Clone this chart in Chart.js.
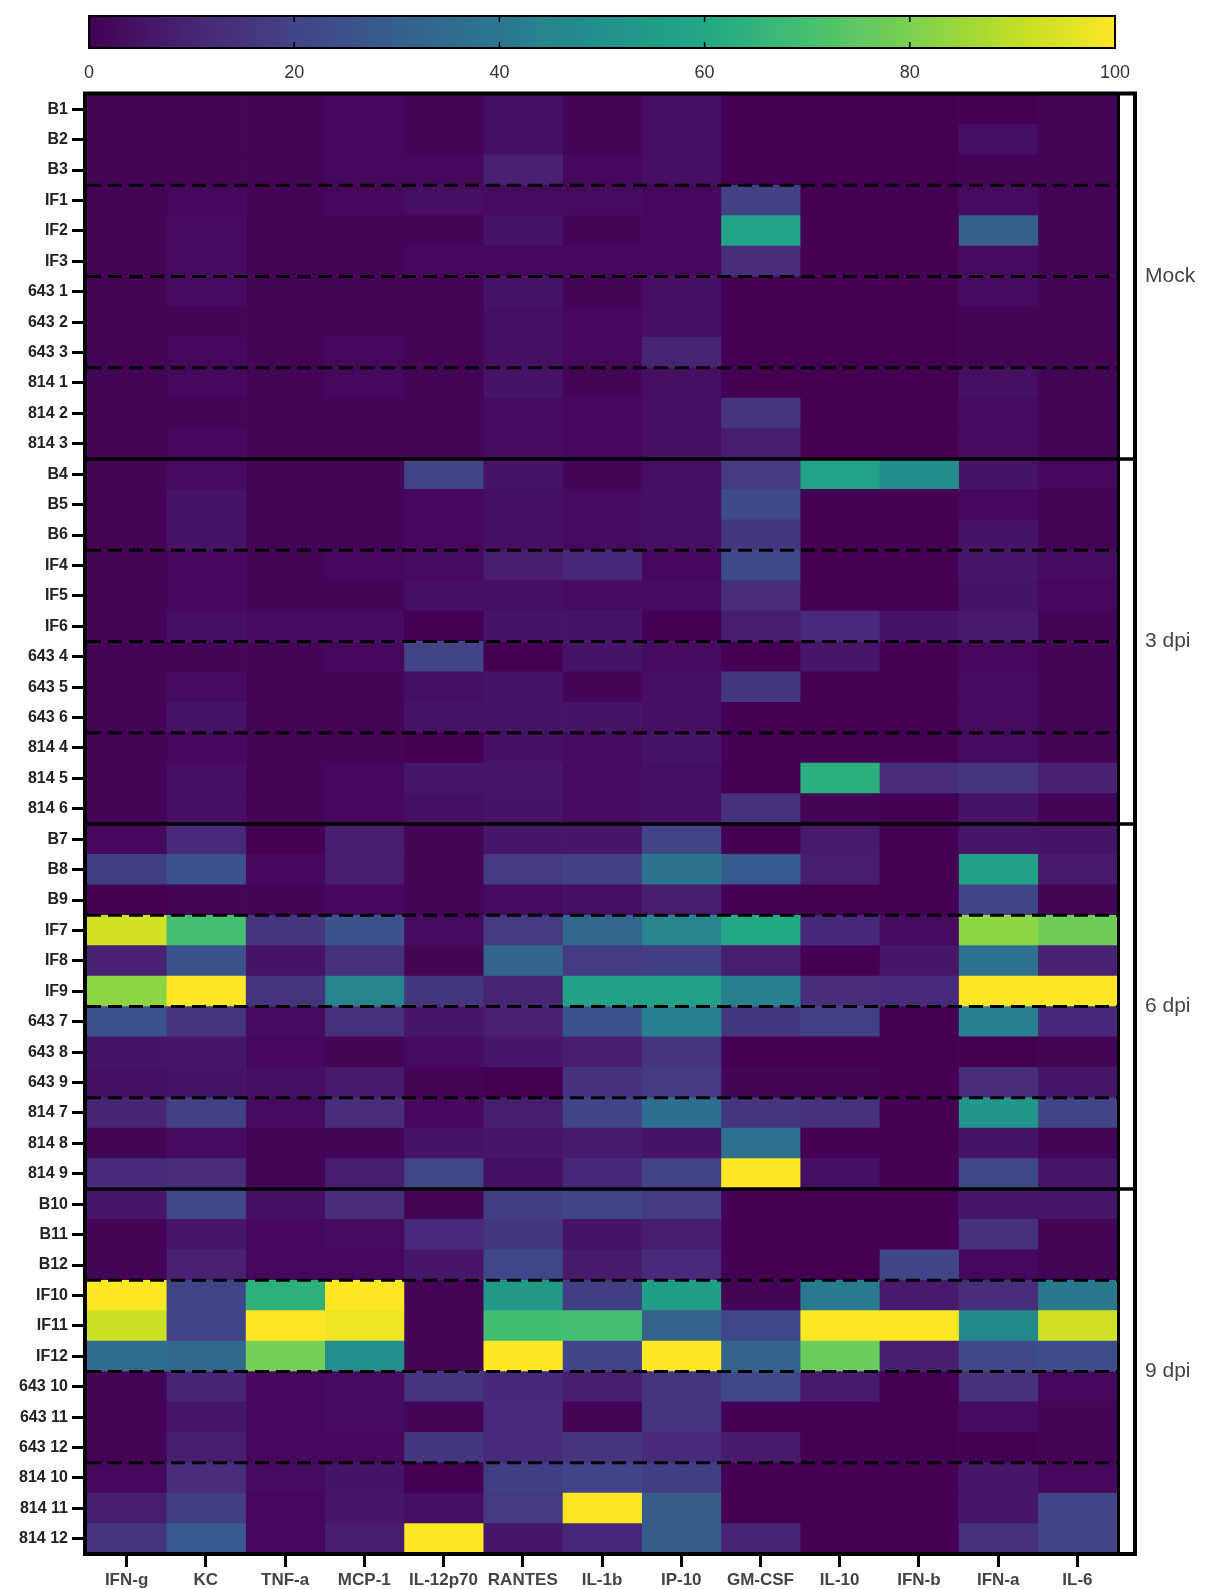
<!DOCTYPE html>
<html>
<head>
<meta charset="utf-8">
<script src="https://cdn.jsdelivr.net/npm/chart.js"></script>
<style>
  body { margin: 0; background: #fff; }
  #wrap { position: relative; width: 1205px; height: 1589px; }
  canvas { position: absolute; left: 0; top: 0; }
</style>
</head>
<body>
<div id="wrap">
  <canvas id="heatmap" width="1205" height="1589"></canvas>
  <canvas id="colorbar" width="1205" height="90"></canvas>
</div>
<script>
// columns (cytokines)
const columns = ['IFN-g', 'KC', 'TNF-a', 'MCP-1', 'IL-12p70', 'RANTES', 'IL-1b', 'IP-10', 'GM-CSF', 'IL-10', 'IFN-b', 'IFN-a', 'IL-6'];

const groups = ['Mock', '3 dpi', '6 dpi', '9 dpi'];

const rowLabels = [
  'B1', 'B2', 'B3', 'IF1', 'IF2', 'IF3', '643 1', '643 2', '643 3', '814 1', '814 2', '814 3',
  'B4', 'B5', 'B6', 'IF4', 'IF5', 'IF6', '643 4', '643 5', '643 6', '814 4', '814 5', '814 6',
  'B7', 'B8', 'B9', 'IF7', 'IF8', 'IF9', '643 7', '643 8', '643 9', '814 7', '814 8', '814 9',
  'B10', 'B11', 'B12', 'IF10', 'IF11', 'IF12', '643 10', '643 11', '643 12', '814 10', '814 11', '814 12'
];

// values (0-100) per row, one group at a time
const mockValues = [
  [1, 1, 1, 2, 1, 4, 1, 4, 0, 0, 0, 0, 1],
  [1, 1, 1, 2, 1, 4, 1, 4, 0, 0, 0, 4, 1],
  [1, 1, 1, 2, 2, 9, 2, 4, 0, 0, 0, 1, 1],
  [1, 2, 1, 2, 4, 3, 3, 2, 19, 0, 0, 3, 1],
  [1, 3, 1, 1, 1, 5, 1, 2, 58, 0, 0, 30, 1],
  [1, 3, 1, 1, 2, 2, 2, 2, 13, 0, 0, 3, 1],
  [1, 3, 1, 1, 1, 5, 1, 4, 0, 0, 0, 3, 1],
  [1, 1, 1, 1, 1, 4, 2, 4, 0, 0, 0, 1, 1],
  [1, 2, 1, 2, 1, 4, 2, 10, 0, 0, 0, 1, 1],
  [1, 2, 1, 2, 1, 5, 1, 4, 0, 0, 0, 4, 1],
  [1, 1, 1, 1, 1, 3, 2, 4, 15, 0, 0, 3, 1],
  [1, 2, 1, 1, 1, 3, 2, 4, 8, 0, 0, 3, 1]
];
const dpi3Values = [
  [1, 3, 1, 1, 20, 5, 1, 4, 17, 58, 48, 5, 2],
  [1, 5, 1, 1, 2, 4, 3, 4, 23, 0, 0, 2, 1],
  [1, 5, 1, 1, 2, 4, 3, 4, 16, 0, 0, 5, 1],
  [1, 2, 1, 2, 3, 8, 11, 2, 23, 0, 0, 6, 3],
  [1, 2, 1, 1, 4, 4, 3, 3, 13, 0, 0, 5, 2],
  [1, 4, 3, 3, 0, 5, 5, 0, 8, 12, 5, 7, 1],
  [1, 1, 1, 2, 20, 0, 5, 3, 0, 6, 0, 2, 1],
  [1, 3, 1, 1, 4, 5, 1, 4, 16, 0, 0, 3, 1],
  [1, 5, 1, 1, 5, 5, 5, 4, 0, 0, 0, 3, 1],
  [1, 2, 1, 1, 0, 4, 3, 5, 0, 0, 0, 3, 1],
  [1, 4, 1, 2, 6, 6, 3, 4, 0, 63, 13, 15, 9],
  [1, 4, 1, 2, 4, 5, 3, 4, 14, 1, 0, 5, 1]
];
const dpi6Values = [
  [2, 12, 0, 8, 1, 6, 6, 20, 0, 7, 0, 6, 5],
  [18, 25, 2, 8, 1, 17, 19, 38, 28, 8, 0, 57, 7],
  [0, 1, 1, 2, 1, 3, 4, 8, 0, 0, 0, 20, 1],
  [93, 70, 15, 25, 3, 17, 33, 45, 60, 11, 3, 83, 78],
  [9, 26, 5, 14, 1, 32, 17, 18, 8, 0, 6, 37, 9],
  [83, 100, 15, 44, 16, 10, 57, 57, 43, 13, 12, 100, 100],
  [25, 15, 3, 14, 6, 9, 25, 43, 16, 19, 0, 43, 11],
  [5, 6, 2, 1, 3, 6, 8, 15, 0, 0, 0, 0, 1],
  [4, 5, 4, 7, 1, 0, 14, 17, 1, 1, 0, 13, 6],
  [10, 19, 3, 13, 2, 8, 20, 36, 15, 14, 0, 52, 20],
  [1, 3, 1, 1, 5, 6, 7, 5, 37, 0, 0, 5, 1],
  [12, 13, 1, 8, 21, 4, 11, 20, 100, 4, 0, 22, 6]
];
const dpi9Values = [
  [6, 22, 4, 13, 1, 18, 20, 17, 0, 0, 0, 6, 6],
  [1, 6, 2, 3, 12, 16, 5, 8, 0, 0, 0, 14, 1],
  [1, 9, 2, 2, 6, 21, 7, 12, 0, 0, 20, 2, 1],
  [100, 20, 64, 100, 1, 54, 18, 55, 1, 41, 7, 13, 40],
  [92, 20, 100, 98, 1, 69, 70, 31, 21, 100, 100, 47, 93],
  [35, 34, 79, 49, 1, 100, 20, 100, 32, 77, 8, 22, 24],
  [1, 10, 2, 3, 15, 11, 8, 15, 22, 7, 0, 14, 2],
  [1, 6, 2, 3, 1, 12, 1, 15, 0, 0, 0, 3, 1],
  [1, 8, 2, 2, 16, 12, 15, 12, 7, 0, 0, 0, 1],
  [2, 13, 3, 5, 0, 18, 20, 18, 0, 0, 0, 6, 2],
  [8, 18, 2, 6, 4, 17, 100, 29, 0, 0, 0, 6, 20],
  [15, 28, 2, 8, 100, 6, 11, 29, 10, 0, 0, 14, 20]
];

const colorbarTicks = [0, 20, 40, 60, 80, 100];

const values = [...mockValues, ...dpi3Values, ...dpi6Values, ...dpi9Values];

// viridis colormap
const viridisStops = ['#440154', '#482475', '#414487', '#355f8d', '#2a788e', '#21918c', '#22a884', '#44bf70', '#7ad151', '#bddf26', '#fde725'];

function hexToRgb(h) {
    return [parseInt(h.substr(1, 2), 16), parseInt(h.substr(3, 2), 16), parseInt(h.substr(5, 2), 16)];
}

function viridis(v) {
    const t = Math.max(0, Math.min(1, v / 100)) * 10;
    const i = Math.min(9, Math.floor(t));
    const f = t - i;
    const a = hexToRgb(viridisStops[i]);
    const b = hexToRgb(viridisStops[i + 1]);
    const c = a.map((x, k) => Math.round(x + (b[k] - x) * f));
    return `rgb(${c[0]},${c[1]},${c[2]})`;
}

Chart.defaults.font.family = "'Liberation Sans', Arial, sans-serif";

// frame, separators, bracket column and group labels
const framePlugin = {
    id: 'frame',
    afterDatasetsDraw(chart) {
        const { ctx, chartArea: a, scales: { y } } = chart;
        const n = rowLabels.length;
        const rowH = (a.bottom - a.top) / n;
        const edge = k => k < n ? y.getPixelForValue(k) - rowH / 2 : y.getPixelForValue(n - 1) + rowH / 2;
        const bracketRight = a.right + 18;

        ctx.save();
        ctx.strokeStyle = '#000';

        // dashed lines every 3 rows
        ctx.lineWidth = 3;
        ctx.setLineDash([14, 7]);
        for (let k = 3; k < n; k += 3) {
            if (k % 12 === 0) continue;
            ctx.beginPath();
            ctx.moveTo(a.left, edge(k));
            ctx.lineTo(a.right, edge(k));
            ctx.stroke();
        }
        ctx.setLineDash([]);

        // solid lines between groups
        ctx.lineWidth = 3.5;
        for (let k = 12; k < n; k += 12) {
            ctx.beginPath();
            ctx.moveTo(a.left, edge(k));
            ctx.lineTo(bracketRight, edge(k));
            ctx.stroke();
        }

        // outer frame
        ctx.lineWidth = 4;
        ctx.strokeRect(a.left - 2, a.top - 0.5, bracketRight - a.left + 2, a.bottom - a.top + 0.5);
        ctx.lineWidth = 3;
        ctx.beginPath();
        ctx.moveTo(a.right + 1.5, a.top);
        ctx.lineTo(a.right + 1.5, a.bottom);
        ctx.stroke();

        // group labels
        ctx.fillStyle = '#444';
        ctx.font = "21px 'Liberation Sans', Arial, sans-serif";
        ctx.textAlign = 'left';
        ctx.textBaseline = 'middle';
        groups.forEach((g, i) => {
            const yc = (edge(i * 12) + edge(i * 12 + 12)) / 2;
            ctx.fillText(g, bracketRight + 10, yc);
        });
        ctx.restore();
    }
};

const heatCtx = document.getElementById('heatmap').getContext('2d');
new Chart(heatCtx, {
    type: 'bar',
    data: {
        labels: rowLabels,
        datasets: columns.map((col, j) => ({
            label: col,
            data: rowLabels.map(() => [j, j + 1]),
            backgroundColor: values.map(r => viridis(r[j])),
            borderWidth: 0,
            barPercentage: 1,
            categoryPercentage: 1,
            grouped: false
        }))
    },
    options: {
        indexAxis: 'y',
        responsive: false,
        animation: false,
        layout: { padding: { top: 94, right: 88, left: 0, bottom: 0 } },
        plugins: {
            legend: { display: false },
            tooltip: { enabled: false }
        },
        scales: {
            x: {
                type: 'linear',
                min: 0,
                max: columns.length,
                afterBuildTicks: scale => {
                    scale.ticks = columns.map((c, j) => ({ value: j + 0.5 }));
                },
                afterFit: scale => { scale.height = 35; },
                ticks: {
                    autoSkip: false,
                    maxRotation: 0,
                    padding: 3,
                    color: '#444',
                    font: { size: 17, weight: 'bold' },
                    callback: value => columns[Math.floor(value)]
                },
                grid: { drawOnChartArea: false, tickLength: 13, tickWidth: 3, tickColor: '#000' },
                border: { display: false }
            },
            y: {
                type: 'category',
                afterFit: scale => { scale.width = 87; },
                ticks: {
                    autoSkip: false,
                    padding: 4,
                    color: '#222',
                    font: { size: 16, weight: 'bold' }
                },
                grid: { drawOnChartArea: false, offset: false, tickLength: 15, tickWidth: 3, tickColor: '#000' },
                border: { display: false }
            }
        }
    },
    plugins: [framePlugin]
});

// colorbar outline and inner tick marks
const colorbarFrame = {
    id: 'colorbarFrame',
    afterDatasetsDraw(chart) {
        const { ctx, chartArea: a, scales: { x } } = chart;
        ctx.save();
        ctx.strokeStyle = '#000';
        ctx.lineWidth = 2;
        ctx.strokeRect(a.left, a.top, a.right - a.left, a.bottom - a.top);
        ctx.lineWidth = 1.5;
        colorbarTicks.slice(1, -1).forEach(v => {
            const px = x.getPixelForValue(v);
            ctx.beginPath();
            ctx.moveTo(px, a.top);
            ctx.lineTo(px, a.top + 6);
            ctx.moveTo(px, a.bottom);
            ctx.lineTo(px, a.bottom - 6);
            ctx.stroke();
        });
        ctx.restore();
    }
};

const barCtx = document.getElementById('colorbar').getContext('2d');
new Chart(barCtx, {
    type: 'bar',
    data: {
        labels: ['scale'],
        datasets: [{
            data: [[colorbarTicks[0], colorbarTicks[colorbarTicks.length - 1]]],
            backgroundColor: c => {
                const area = c.chart.chartArea;
                if (!area) return viridisStops[0];
                const g = c.chart.ctx.createLinearGradient(area.left, 0, area.right, 0);
                viridisStops.forEach((s, i) => g.addColorStop(i / (viridisStops.length - 1), s));
                return g;
            },
            borderWidth: 0,
            barPercentage: 1,
            categoryPercentage: 1
        }]
    },
    options: {
        indexAxis: 'y',
        responsive: false,
        animation: false,
        layout: { padding: { left: 89, right: 90, top: 16, bottom: 0 } },
        plugins: {
            legend: { display: false },
            tooltip: { enabled: false }
        },
        scales: {
            x: {
                type: 'linear',
                min: 0,
                max: 100,
                afterFit: scale => { scale.height = 42; },
                ticks: { stepSize: 20, padding: 6, color: '#333', font: { size: 18 } },
                grid: { display: false },
                border: { display: false }
            },
            y: { display: false }
        }
    },
    plugins: [colorbarFrame]
});
</script>
</body>
</html>
